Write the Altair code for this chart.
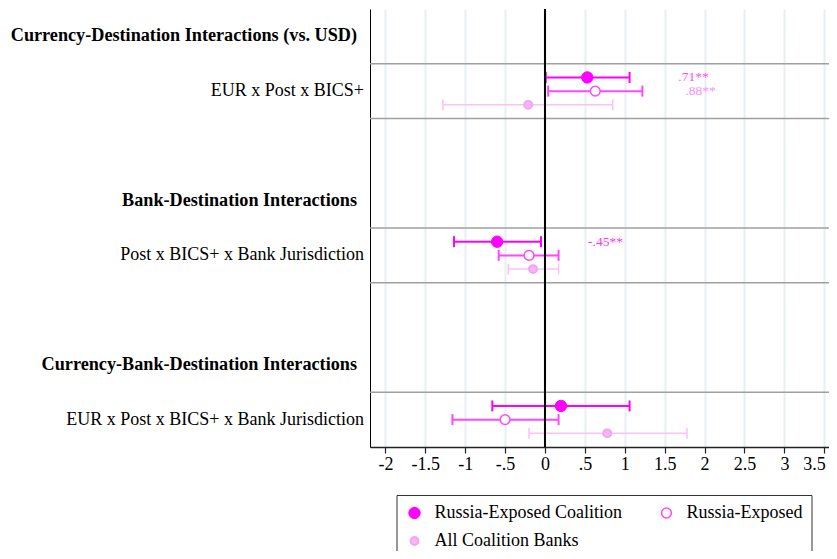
import altair as alt
import pandas as pd

# ---------------- data ----------------
series = ["Russia-Exposed Coalition", "Russia-Exposed", "All Coalition Banks"]
headers = ["Currency-Destination Interactions (vs. USD)",
           "Bank-Destination Interactions",
           "Currency-Bank-Destination Interactions"]
terms = ["EUR x Post x BICS+",
         "Post x BICS+ x Bank Jurisdiction",
         "EUR x Post x BICS+ x Bank Jurisdiction"]

coef_rec = [0.53, -0.60, 0.20]
lo_rec = [0.01, -1.14, -0.66]
hi_rec = [1.06, -0.05, 1.06]

coef_re = [0.63, -0.20, -0.50]
lo_re = [0.04, -0.58, -1.16]
hi_re = [1.22, 0.17, 0.17]

coef_all = [-0.21, -0.15, 0.78]
lo_all = [-1.28, -0.46, -0.20]
hi_all = [0.85, 0.17, 1.78]

ann_text = [".71**", ".88**", "-.45**"]
ann_x = [1.67, 1.76, 0.54]
ann_block = [0, 0, 1]
ann_series = [0, 1, 0]

x_ticks = [-2, -1.5, -1, -0.5, 0, 0.5, 1, 1.5, 2, 2.5, 3, 3.5]

# ---------------- styles ----------------
FONT = "Liberation Serif"
point_fill = ["#ff00ff", "#ffffff", "#f7b5f7"]
point_stroke = ["#ff00ff", "#ff47ff", "#f2a6f2"]
point_size = [130, 62, 50]
point_sw = [1, 2, 1]
ci_color = ["#ff00ff", "#ff47ff", "#f9c2f9"]
ci_width = [2, 2, 1.5]
ann_color = ["#ff4dff", "#ff8cff", "#ff33ff"]

def block_base(k):
    return 12 * k

coefs = [coef_rec, coef_re, coef_all]
los = [lo_rec, lo_re, lo_all]
his = [hi_rec, hi_re, hi_all]

rows = []
for k in range(3):
    for s in range(3):
        rows.append(dict(series=series[s], sidx=s, term=terms[k],
                         coef=coefs[s][k], lo=los[s][k], hi=his[s][k],
                         pos=block_base(k) + 5 + s))
df = pd.DataFrame(rows)

hdr_df = pd.DataFrame(dict(label=headers, pos=[block_base(k) + 2 for k in range(3)]))
term_df = pd.DataFrame(dict(label=terms, pos=[block_base(k) + 6 for k in range(3)]))
sep_df = pd.DataFrame(dict(pos=[block_base(k) + o for k in range(3) for o in (4, 8)][:-1]))
ann_df = pd.DataFrame(dict(label=ann_text, x=ann_x,
                           pos=[block_base(b) + 5 + s for b, s in zip(ann_block, ann_series)],
                           col=[ann_color[i] for i in range(3)]))

xscale = alt.Scale(domain=[-2.193, 3.559], nice=False, zero=False)
yscale = alt.Scale(domain=[0, 32], reverse=True, nice=False, zero=False)
xaxis = alt.Axis(values=x_ticks, title=None, grid=True, gridColor="#e7eff2", gridWidth=2,
                 domainColor="#222222", domainWidth=1.5, tickColor="#222222", tickSize=6,
                 tickWidth=1.2, labelFont=FONT, labelFontSize=18, labelColor="black",
                 labelPadding=2, labelFlush=10, labelFlushOffset=1,
                 labelExpr="replace(toString(datum.value), '0.', '.')")
yaxis = alt.Axis(title=None, labels=False, ticks=False, grid=False,
                 domainColor="black", domainWidth=1)

base = alt.Chart(df)

seps = alt.Chart(sep_df).mark_rule(color="#a0a0a0", strokeWidth=1.3).encode(
    y=alt.Y("pos:Q", scale=yscale, axis=yaxis))

layers = [seps]
for s in range(3):
    sub = base.transform_filter(alt.datum.sidx == s)
    layers.append(sub.mark_rule(color=ci_color[s], strokeWidth=ci_width[s]).encode(
        x=alt.X("lo:Q", scale=xscale, axis=xaxis), x2="hi:Q",
        y=alt.Y("pos:Q", scale=yscale, axis=yaxis)))
    for end in ("lo", "hi"):
        layers.append(sub.mark_tick(orient="vertical", color=ci_color[s], size=11,
                                    thickness=ci_width[s], opacity=1).encode(
            x=alt.X(f"{end}:Q", scale=xscale, axis=xaxis),
            y=alt.Y("pos:Q", scale=yscale, axis=yaxis)))

zero = alt.Chart(df).mark_rule(color="black", strokeWidth=2).encode(
    x=alt.X(datum=0, scale=xscale, axis=xaxis))
layers.append(zero)

leg = alt.Legend(title=None, orient="none", legendX=26.5, legendY=486, columns=2,
                 direction="horizontal",
                 strokeColor="#333333", fillColor="white", padding=9,
                 labelFont=FONT, labelFontSize=18, labelColor="black", labelLimit=400,
                 labelOffset=11, rowPadding=10, columnPadding=35, symbolType="circle")
points = base.mark_point(shape="circle", filled=True, opacity=1).encode(
    x=alt.X("coef:Q", scale=xscale, axis=xaxis),
    y=alt.Y("pos:Q", scale=yscale, axis=yaxis),
    fill=alt.Fill("series:N", scale=alt.Scale(domain=series, range=point_fill), legend=leg),
    stroke=alt.Stroke("series:N", scale=alt.Scale(domain=series, range=point_stroke), legend=leg),
    size=alt.Size("series:N", scale=alt.Scale(domain=series, range=point_size), legend=leg),
    strokeWidth=alt.StrokeWidth("series:N", scale=alt.Scale(domain=series, range=point_sw), legend=leg),
)
layers.append(points)

ann = alt.Chart(ann_df).mark_text(align="left", baseline="middle", font=FONT, fontSize=13.5).encode(
    x=alt.X("x:Q", scale=xscale, axis=xaxis),
    y=alt.Y("pos:Q", scale=yscale, axis=yaxis),
    text="label:N",
    color=alt.Color("col:N", scale=None))
layers.append(ann)

hdr = alt.Chart(hdr_df).mark_text(align="right", baseline="middle", font=FONT, fontSize=18.2,
                                   fontWeight="bold", color="black").encode(
    x=alt.value(-13), y=alt.Y("pos:Q", scale=yscale, axis=yaxis), text="label:N")
trm = alt.Chart(term_df).mark_text(align="right", baseline="middle", font=FONT, fontSize=18,
                                    color="black").encode(
    x=alt.value(-6), y=alt.Y("pos:Q", scale=yscale, axis=yaxis), text="label:N")
layers += [hdr, trm]

chart = alt.layer(*layers).properties(
    width=459, height=438,
    autosize=alt.AutoSizeParams(type="none"),
    padding={"left": 362, "top": 1, "right": 0, "bottom": 104},
    background="white",
).configure_view(strokeWidth=0)

chart.save("out.html", embed_options={"renderer": "svg", "actions": False})
